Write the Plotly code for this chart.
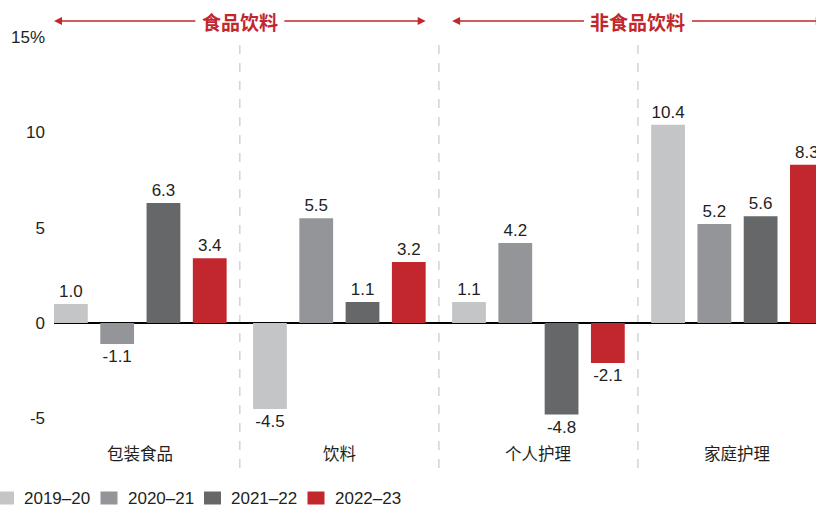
import plotly.graph_objects as go

categories = ["包装食品", "饮料", "个人护理", "家庭护理"]
series_names = ["2019–20", "2020–21", "2021–22", "2022–23"]
v2019_20 = [1.0, -4.5, 1.1, 10.4]
v2020_21 = [-1.1, 5.5, 4.2, 5.2]
v2021_22 = [6.3, 1.1, -4.8, 5.6]
v2022_23 = [3.4, 3.2, -2.1, 8.3]
ytick_vals = [-5, 0, 5, 10, 15]
ytick_text = ["-5", "0", "5", "10", "15%"]
headers = ["食品饮料", "非食品饮料"]
header_spans = [(0, 1), (2, 3)]

colors = ["#C4C5C7", "#939598", "#666769", "#C1272D"]
RED = "#C1272D"
TXT = "#231f20"
FONT = "Liberation Sans, Arial, Noto Sans CJK SC, sans-serif"
CJK = "Noto Sans CJK SC, sans-serif"

W, H = 816, 506
ML, MR, MT, MB = 54, 0, 37, 38
PW, PH = W - ML - MR, H - MT - MB

values = [v2019_20, v2020_21, v2021_22, v2022_23]
xs = list(range(len(categories)))

BARGAP = 0.07
slot = (1 - BARGAP) / 4
GROUPGAP = 0.27
barw = slot * (1 - GROUPGAP)

fig = go.Figure()
for name, vals, c in zip(series_names, values, colors):
    fig.add_trace(go.Bar(
        x=xs, y=vals, name=name, marker=dict(color=c, line=dict(width=0)),
        text=[f"{v:.1f}" for v in vals], textposition="outside",
        textfont=dict(family=FONT, size=17, color=TXT),
        cliponaxis=False, showlegend=False,
    ))

left_edge = -0.5 + BARGAP / 2 + slot * GROUPGAP / 2
right_edge = 3.5 - 21 / 199.0

fig.update_layout(
    width=W, height=H,
    margin=dict(l=ML, r=MR, t=MT, b=MB, autoexpand=False),
    plot_bgcolor="white", paper_bgcolor="white",
    barmode="group", bargap=BARGAP, bargroupgap=GROUPGAP,
    font=dict(family=FONT, size=17, color=TXT),
    showlegend=False,
    xaxis=dict(range=[left_edge, right_edge], showticklabels=False, showgrid=False,
               zeroline=False, showline=False, ticks=""),
    yaxis=dict(range=[-7.6, 15], tickvals=ytick_vals, ticktext=ytick_text,
               showgrid=False, zeroline=True, zerolinecolor="#000000", zerolinewidth=2,
               showline=False, ticks="", ticklabelstandoff=8, automargin=False,
               tickfont=dict(family=FONT, size=17, color=TXT)),
)

# dashed dividers between categories
for b in [0.5, 1.5, 2.5]:
    fig.add_shape(type="line", xref="x", yref="paper", x0=b, x1=b, y0=0, y1=0.986,
                  line=dict(color="#C8C8C8", width=1.2, dash="dash"), layer="below")

# category labels
for i, cat in enumerate(categories):
    fig.add_annotation(x=i, y=-6.8, xref="x", yref="y", text=cat, showarrow=False,
                       yanchor="middle",
                       font=dict(family=CJK, size=16.5, color=TXT))

# header arrows
hy = 1 + 16 / PH
for txt, (a, b) in zip(headers, header_spans):
    x0 = a - 1.5 * slot - barw / 2
    x1 = b + 1.5 * slot + barw / 2
    mid = (x0 + x1) / 2
    half_txt = (len(txt) * 19 / 2 + 5) / 199.0
    fig.add_annotation(x=mid, y=hy, xref="x", yref="paper", text=f"<b>{txt}</b>",
                       showarrow=False, yanchor="middle", xanchor="center",
                       font=dict(family=CJK, size=19, color=RED))
    fig.add_annotation(x=x0, y=hy, xref="x", yref="paper", ax=mid - half_txt, ay=0,
                       axref="x", ayref="pixel", showarrow=True, arrowhead=2,
                       arrowsize=1, arrowwidth=1.6, arrowcolor=RED, text="")
    fig.add_annotation(x=x1, y=hy, xref="x", yref="paper", ax=mid + half_txt, ay=0,
                       axref="x", ayref="pixel", showarrow=True, arrowhead=2,
                       arrowsize=1, arrowwidth=1.6, arrowcolor=RED, text="")

# legend (drawn below the plot)
LEG_X0, LEG_STEP, SQ_W, SQ_H, TXT_OFF, LEG_Y = -3, 103.5, 17, 13, 25, 498
def px(x):
    return (x - ML) / PW
def py(y):
    return (H - MB - y) / PH
for i, (name, c) in enumerate(zip(series_names, colors)):
    lx = LEG_X0 + i * LEG_STEP
    fig.add_shape(type="rect", xref="paper", yref="paper",
                  x0=px(lx), x1=px(lx + SQ_W), y0=py(LEG_Y + SQ_H / 2), y1=py(LEG_Y - SQ_H / 2),
                  fillcolor=c, line=dict(width=0))
    fig.add_annotation(x=px(lx + TXT_OFF), y=py(LEG_Y), xref="paper", yref="paper",
                       text=name, showarrow=False, xanchor="left", yanchor="middle",
                       font=dict(family=FONT, size=17, color=TXT))

fig.write_html("out.html", config={"displayModeBar": False},
               post_script="document.body.style.margin='0';document.body.style.overflow='hidden';")
